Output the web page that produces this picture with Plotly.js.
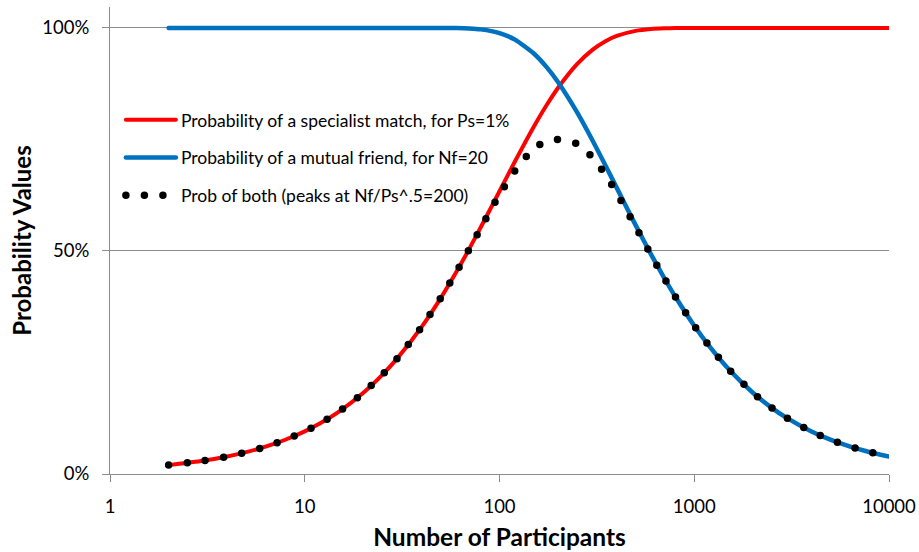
<!DOCTYPE html>
<html>
<head>
<meta charset="utf-8">
<script src="https://cdn.plot.ly/plotly-3.0.1.min.js"></script>
<style>
html,body{margin:0;padding:0;background:#fff;}
#chart{width:919px;height:552px;}
path.js-line{stroke-linecap:round;}
</style>
</head>
<body>
<div id="chart"></div>
<script>
// Number of participants (x)
const participants = [2,3,4,5,6,7,8,10,12,15,20,25,30,40,50,60,70,80,100,120,150,175,200,250,300,350,400,500,600,700,800,1000,1200,1500,2000,2500,3000,4000,5000,6000,7000,8000,10000];
// Probability of a specialist match, Ps=1%
const specialist = [0.0199,0.0297,0.0394,0.0490,0.0585,0.0679,0.0773,0.0956,0.1136,0.1399,0.1821,0.2222,0.2603,0.3310,0.3950,0.4528,0.5052,0.5525,0.6340,0.7006,0.7786,0.8278,0.8660,0.9189,0.9510,0.9703,0.9820,0.9934,0.9976,0.9991,0.9997,1.0000,1.0000,1.0000,1.0000,1.0000,1.0000,1.0000,1.0000,1.0000,1.0000,1.0000,1.0000];
// Probability of a mutual friend, Nf=20
const mutual = [1,1,1,1,1,1,1,1,1,1,1,1,1,1,0.99996,0.9997,0.9988,0.9968,0.9885,0.9739,0.9428,0.9117,0.8784,0.8113,0.7484,0.6917,0.6415,0.5580,0.4924,0.4400,0.3973,0.3324,0.2855,0.2354,0.1821,0.1484,0.1252,0.0954,0.0770,0.0646,0.0556,0.0488,0.0392];
// Probability of both
const both = [0.0199,0.0297,0.0394,0.0490,0.0585,0.0679,0.0773,0.0956,0.1136,0.1399,0.1821,0.2222,0.2603,0.3310,0.3950,0.4527,0.5046,0.5507,0.6267,0.6800,0.7300,0.7470,0.7500,0.7400,0.7100,0.6712,0.6300,0.5543,0.4912,0.4396,0.3972,0.3324,0.2855,0.2354,0.1821,0.1484,0.1252,0.0954,0.0770,0.0646,0.0556,0.0488,0.0392];

const seriesNames = [
  'Probability of a specialist match, for Ps=1%',
  'Probability of a mutual friend, for Nf=20',
  'Prob of both (peaks at Nf/Ps^.5=200)'
];
const yTickVals = [0, 0.5, 1];
const yTickText = ['0%', '50%', '100%'];
const xTickVals = [1, 10, 100, 1000, 10000];
const xTickText = ['1', '10', '100', '1000', '10000'];

const FONT = 'Lato, "Open Sans", "Liberation Sans", sans-serif';

const traces = [
  {x: participants, y: specialist, name: seriesNames[0], mode: 'lines', type: 'scatter',
   legendgroup: 'a', line: {color: '#FF0000', width: 4, shape: 'spline', smoothing: 0.6}},
  {x: participants, y: mutual, name: seriesNames[1], mode: 'lines', type: 'scatter',
   legendgroup: 'b', line: {color: '#0070C0', width: 4.5, shape: 'spline', smoothing: 0.6}},
  {x: participants, y: both, name: seriesNames[2], mode: 'lines', type: 'scatter',
   legendgroup: 'c', line: {color: '#000000', width: 7.5, dash: '0px,18.5px', shape: 'spline', smoothing: 0.6}}
];

const layout = {
  width: 919, height: 552,
  margin: {l: 110, r: 30, t: 7, b: 78},
  paper_bgcolor: '#ffffff', plot_bgcolor: '#ffffff',
  font: {family: FONT, color: '#000000'},
  showlegend: true,
  legend: {
    x: 0.014, y: 0.797, xanchor: 'left', yanchor: 'top',
    bgcolor: 'rgba(0,0,0,0)', font: {size: 17.5, family: FONT, color: '#000'},
    tracegroupgap: 12, itemwidth: 50
  },
  xaxis: {
    type: 'log', range: [0, 4],
    tickvals: xTickVals, ticktext: xTickText,
    tickfont: {size: 18.5, family: FONT, color: '#000'},
    showgrid: false, zeroline: false,
    showline: true, linecolor: '#8c8c8c', linewidth: 1,
    ticks: 'outside', ticklen: 7, tickcolor: '#8c8c8c', ticklabelstandoff: 9,
    title: {text: '<b>Number of Participants</b>', font: {size: 24.5, family: FONT, color: '#000'}, standoff: 12}
  },
  yaxis: {
    range: [0, 1.047],
    tickvals: yTickVals, ticktext: yTickText,
    tickfont: {size: 18.5, family: FONT, color: '#000'},
    showgrid: true, gridcolor: '#8c8c8c', gridwidth: 1,
    zeroline: false,
    showline: true, linecolor: '#8c8c8c', linewidth: 1,
    ticks: 'outside', ticklen: 7, tickcolor: '#8c8c8c', ticklabelstandoff: 9,
    title: {text: '<b>Probability Values</b>', font: {size: 24, family: FONT, color: '#000'}, standoff: 3}
  }
};

Plotly.newPlot('chart', traces, layout, {displayModeBar: false, staticPlot: true});
</script>
</body>
</html>
